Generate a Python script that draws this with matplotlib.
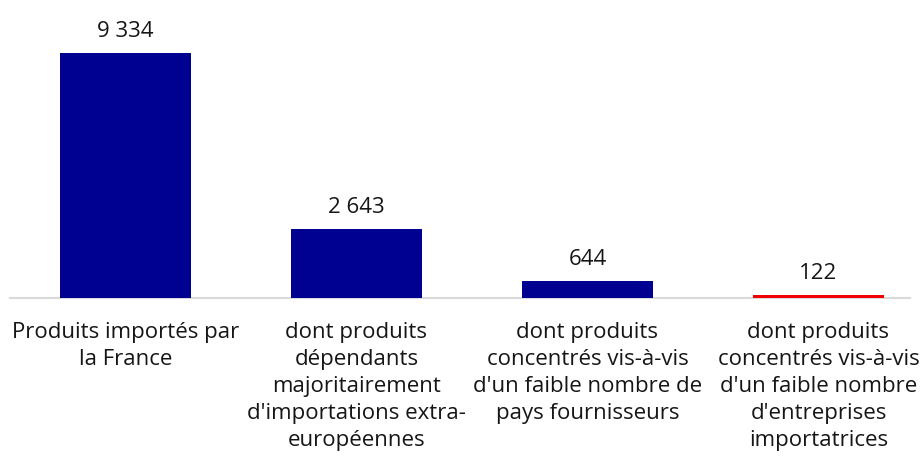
import matplotlib
matplotlib.use("Agg")
import matplotlib.pyplot as plt

categories = [
    "Produits importés par\nla France",
    "dont produits\ndépendants\nmajoritairement\nd'importations extra-\neuropéennes",
    "dont produits\nconcentrés vis-à-vis\nd'un faible nombre de\npays fournisseurs",
    "dont produits\nconcentrés vis-à-vis\nd'un faible nombre\nd'entreprises\nimportatrices",
]
values = [9334, 2643, 644, 122]
value_labels = ["9 334", "2 643", "644", "122"]
colors = ["#000091", "#000091", "#000091", "#F00000"]

plt.rcParams['font.family'] = ['Open Sans', 'DejaVu Sans']

fig = plt.figure(figsize=(9.23, 4.62), dpi=100)
ax = fig.add_axes([10/923, 164/462, 900/923, 288/462])
x = list(range(len(values)))
bars = ax.bar(x, values, width=0.567, color=colors)
ax.set_xlim(-0.5, -0.5 + 900/231)
ax.set_ylim(0, 288/ (245/9334))
for xi, v, lab in zip(x, values, value_labels):
    ax.annotate(lab, (xi, v), xytext=(0, 8), textcoords="offset points",
                ha="center", va="bottom", fontsize=16, color="#161616")
ax.set_yticks([])
ax.set_xticks(x)
ax.set_xticklabels(categories, fontsize=16, color="#161616", linespacing=1.38)
ax.tick_params(axis="x", length=0, pad=17)
for s in ["top", "right", "left"]:
    ax.spines[s].set_visible(False)
ax.spines["bottom"].set_color("#D9D9D9")
ax.spines["bottom"].set_linewidth(1.5)
ax.spines["bottom"].set_zorder(0)
fig.savefig("out.png", dpi=100)
